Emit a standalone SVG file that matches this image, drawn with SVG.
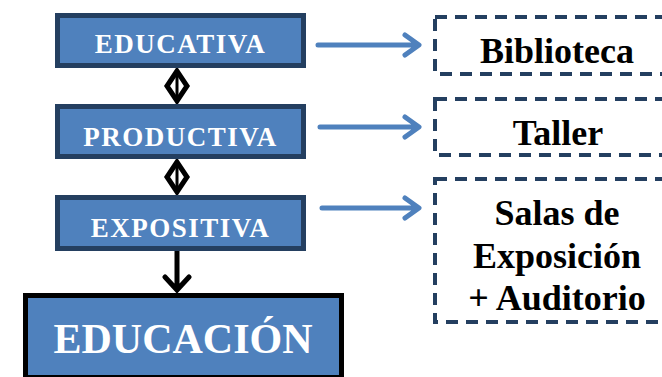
<svg xmlns="http://www.w3.org/2000/svg" width="662" height="377" viewBox="0 0 662 377">
<style>
.box{fill:#4F81BD;stroke:#243F60;stroke-width:5}
.big{fill:#4F81BD;stroke:#000;stroke-width:5}
.dash{fill:#fff;stroke:#243F60;stroke-width:4;stroke-dasharray:12 8}
.wt{font-family:'Liberation Serif','Times New Roman',serif;font-weight:700;fill:#fff;text-anchor:middle}
.bt{font-family:'Liberation Serif','Times New Roman',serif;font-weight:700;fill:#000;text-anchor:middle;font-size:36px}
.blue{stroke:#4F81BD;stroke-width:5;fill:none;stroke-linecap:round;stroke-linejoin:round}
.blk{stroke:#000;stroke-width:5;fill:none;stroke-linejoin:miter}
</style>
<rect width="662" height="377" fill="#fff"/>
<g id="connectors">
<path class="blue" d="M318 45H418M405 35L419 45L405 55"/>
<path class="blue" d="M320 127H418M405 117L419 127L405 137"/>
<path class="blue" d="M322 208H418M405 198L419 208L405 218"/>
<path class="blk" d="M177 71L167 86L177 101L187 86Z"/>
<path d="M177 70V102" stroke="#000" stroke-width="3"/>
<path class="blk" d="M177 162L167 177L177 192L187 177Z"/>
<path d="M177 161V193" stroke="#000" stroke-width="3"/>
<path class="blk" d="M177 251V289M165 277L177 290L189 277" stroke-linecap="round"/>
</g>
<g id="educativa"><rect class="box" x="57.5" y="15.5" width="246" height="50"/><text class="wt" x="180.5" y="53" font-size="27" letter-spacing="1.5">EDUCATIVA</text></g>
<g id="productiva"><rect class="box" x="57.5" y="106.5" width="246" height="50"/><text class="wt" x="180.5" y="146" font-size="27" letter-spacing="1.5">PRODUCTIVA</text></g>
<g id="expositiva"><rect class="box" x="57.5" y="197.5" width="246" height="51"/><text class="wt" x="180.5" y="237" font-size="27" letter-spacing="1.5">EXPOSITIVA</text></g>
<g id="educacion"><rect class="big" x="25.5" y="295.5" width="316" height="82"/><text class="wt" x="183" y="353" font-size="42">EDUCACIÓN</text></g>
<g id="biblioteca"><rect class="dash" x="435" y="17" width="240" height="57"/><text class="bt" x="557" y="63">Biblioteca</text></g>
<g id="taller"><rect class="dash" x="435" y="99" width="240" height="56"/><text class="bt" x="558" y="145">Taller</text></g>
<g id="salas"><rect class="dash" x="435" y="179" width="240" height="143"/><text class="bt" x="557" y="225">Salas de</text><text class="bt" x="557" y="268">Exposición</text><text class="bt" x="557" y="310">+ Auditorio</text></g>
</svg>
